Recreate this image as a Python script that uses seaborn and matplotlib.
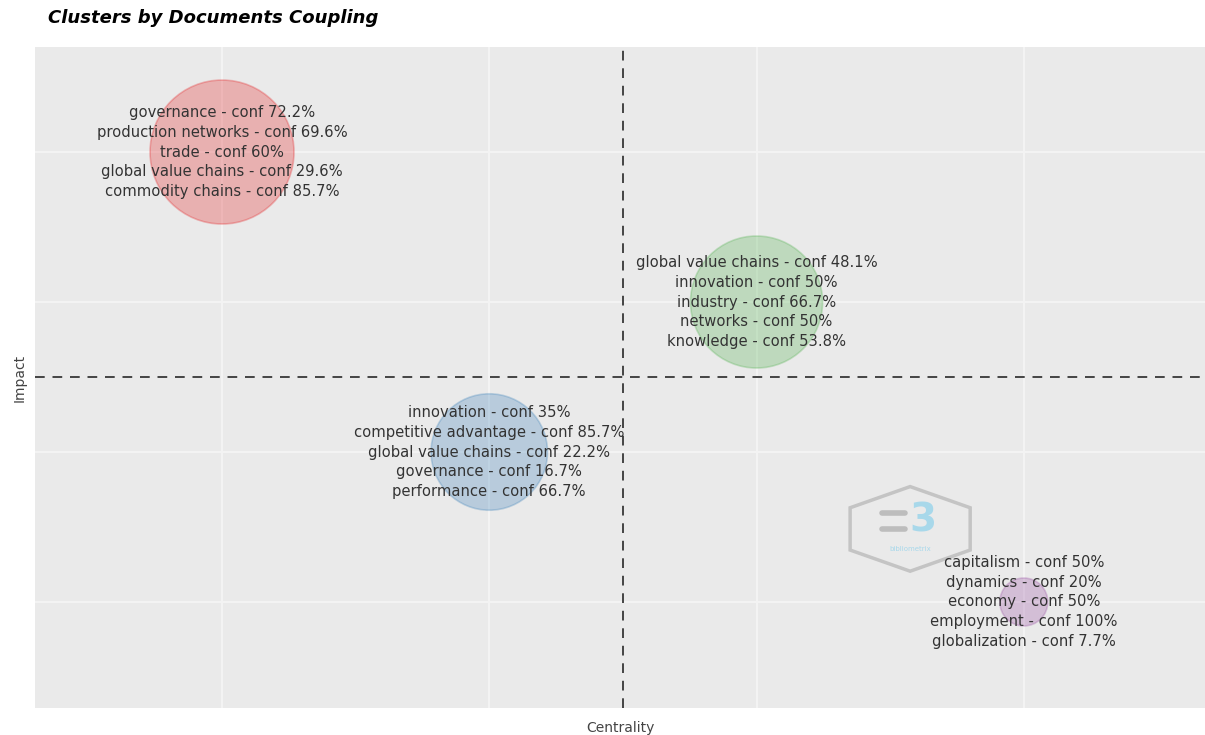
import numpy as np
import pandas as pd
import matplotlib
matplotlib.use("Agg")
import matplotlib.pyplot as plt
from matplotlib.patches import Polygon
import seaborn as sns

# cluster data (red, green, blue, purple)
cluster_names = ["governance", "global value chains", "innovation", "capitalism"]
centrality = [1, 3, 2, 4]
impact = [4, 3, 2, 1]
cluster_freq = [107, 90, 70, 12]
cluster_colors = ["#E41A1C", "#4DAF4A", "#377EB8", "#984EA3"]

terms = [
    ["governance - conf 72.2%", "production networks - conf 69.6%", "trade - conf 60%",
     "global value chains - conf 29.6%", "commodity chains - conf 85.7%"],
    ["global value chains - conf 48.1%", "innovation - conf 50%", "industry - conf 66.7%",
     "networks - conf 50%", "knowledge - conf 53.8%"],
    ["innovation - conf 35%", "competitive advantage - conf 85.7%", "global value chains - conf 22.2%",
     "governance - conf 16.7%", "performance - conf 66.7%"],
    ["capitalism - conf 50%", "dynamics - conf 20%", "economy - conf 50%",
     "employment - conf 100%", "globalization - conf 7.7%"],
]

df = pd.DataFrame({"cluster": cluster_names, "Centrality": centrality,
                   "Impact": impact, "freq": cluster_freq})

sns.set_theme(style="darkgrid", rc={"axes.facecolor": "#EAEAEA", "grid.color": "#F4F4F4",
                                    "grid.linewidth": 1.3})
plt.rcParams["font.family"] = ["DejaVu Sans"]

fig = plt.figure(figsize=(12.05, 7.35), dpi=100)
ax = fig.add_axes([0.029, 0.0367, 0.971, 0.8993])

sns.scatterplot(data=df, x="Centrality", y="Impact", hue="cluster", palette=cluster_colors,
                size="freq", sizes=(1194, 10750), alpha=0.28, linewidth=1.2,
                edgecolor=None, legend=False, ax=ax, zorder=3)
# edge colour same hue
for coll in ax.collections:
    coll.set_edgecolors([matplotlib.colors.to_rgba(c, 0.3) for c in cluster_colors])

for x, y, lab in zip(centrality, impact, terms):
    ax.text(x, y, "\n".join(lab), ha="center", va="center", fontsize=10.6,
            color="#333333", linespacing=1.38, zorder=6)

ax.axvline(np.mean(centrality), color="#444444", linestyle=(0, (5, 4)), linewidth=1.4, zorder=4)
ax.axhline(np.mean(impact), color="#444444", linestyle=(0, (5, 4)), linewidth=1.4, zorder=4)

ax.set_xlim(0.30, 4.678)
ax.set_ylim(0.293, 4.70)
ax.set_xticks(sorted(set(centrality)))
ax.set_yticks(sorted(set(impact)))
ax.set_xticklabels([])
ax.set_yticklabels([])
ax.tick_params(length=0, pad=0)
for s in ax.spines.values():
    s.set_visible(False)
ax.set_xlabel("Centrality", fontsize=10, color="#444444", labelpad=9)
ax.set_ylabel("Impact", fontsize=10, color="#444444", labelpad=6)

# bibliometrix logo
cx, cy, hw, hh = 0.748, 0.271, 0.0513, 0.064
hexpts = [(cx, cy + hh), (cx + hw, cy + hh * 0.5), (cx + hw, cy - hh * 0.5),
          (cx, cy - hh), (cx - hw, cy - hh * 0.5), (cx - hw, cy + hh * 0.5)]
ax.add_patch(Polygon(hexpts, closed=True, fill=False, edgecolor="#C4C4C4",
                     linewidth=2.5, transform=ax.transAxes, zorder=2))
for dy in (0.024, 0.0):
    ax.plot([cx - 0.024, cx - 0.004], [cy + dy, cy + dy], transform=ax.transAxes,
            color="#BDBDBD", linewidth=4, solid_capstyle="round", zorder=2)
ax.text(cx + 0.011, cy + 0.012, "3", transform=ax.transAxes, ha="center", va="center",
        fontsize=28, fontweight="bold", color="#A8D8EA", zorder=2)
ax.text(cx, cy - 0.03, "bibliometrix", transform=ax.transAxes, ha="center", va="center",
        fontsize=5, color="#A8D8EA", zorder=2)

fig.text(0.040, 0.975, "Clusters by Documents Coupling", fontsize=13, fontweight="bold",
         fontstyle="italic", ha="left", va="center", color="black")

fig.savefig("out.png", dpi=100, facecolor="white")
